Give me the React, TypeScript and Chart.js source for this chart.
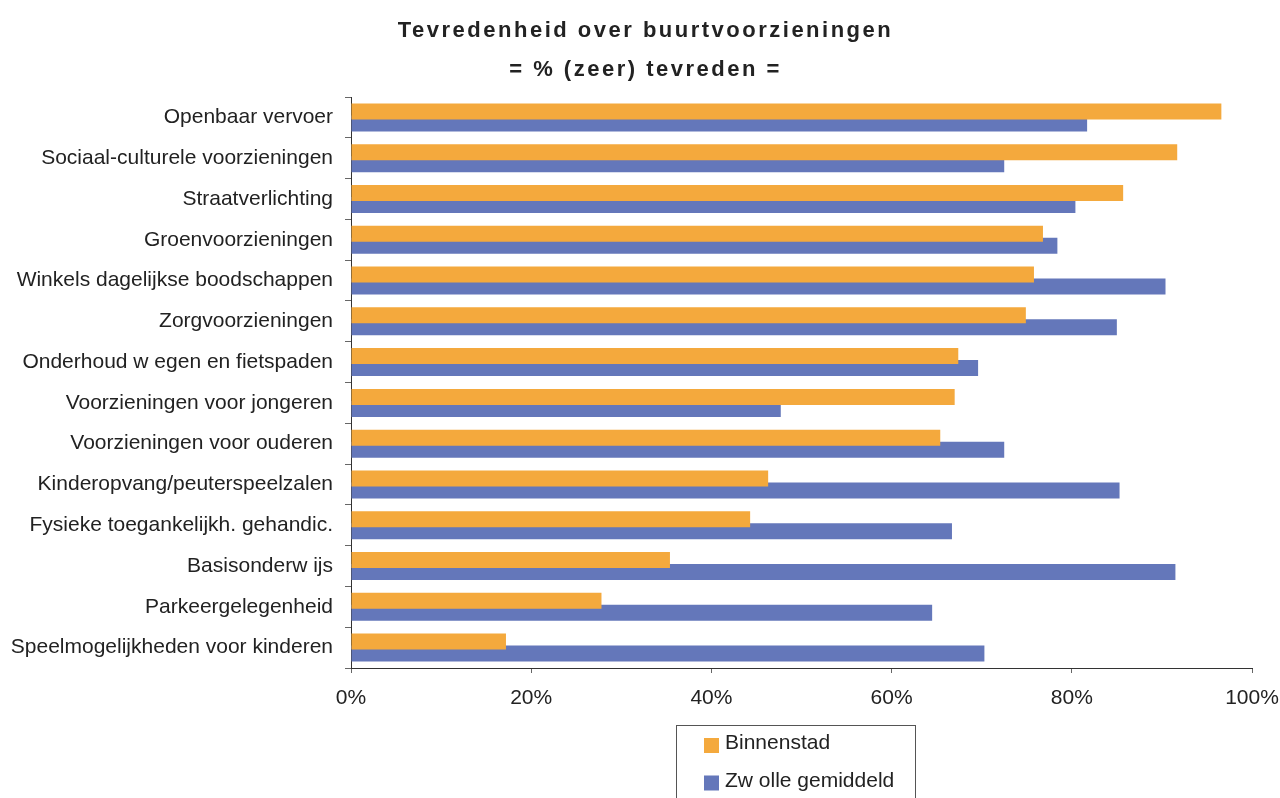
import React, { useEffect, useRef } from "react";
import { Chart, registerables } from "chart.js";

Chart.register(...registerables);

const categories = [
  "Openbaar vervoer",
  "Sociaal-culturele voorzieningen",
  "Straatverlichting",
  "Groenvoorzieningen",
  "Winkels dagelijkse boodschappen",
  "Zorgvoorzieningen",
  "Onderhoud w egen en fietspaden",
  "Voorzieningen voor jongeren",
  "Voorzieningen voor ouderen",
  "Kinderopvang/peuterspeelzalen",
  "Fysieke toegankelijkh. gehandic.",
  "Basisonderw ijs",
  "Parkeergelegenheid",
  "Speelmogelijkheden voor kinderen",
];

const binnenstad = [96.6, 91.7, 85.7, 76.8, 75.8, 74.9, 67.4, 67.0, 65.4, 46.3, 44.3, 35.4, 27.8, 17.2];
const zwolleGemiddeld = [81.7, 72.5, 80.4, 78.4, 90.4, 85.0, 69.6, 47.7, 72.5, 85.3, 66.7, 91.5, 64.5, 70.3];

const seriesNames = ["Binnenstad", "Zw olle gemiddeld"];
const seriesColors = ["#F4A93D", "#6477BA"];
const titleLines = ["Tevredenheid over buurtvoorzieningen", "= % (zeer) tevreden ="];
const xTicks = [0, 20, 40, 60, 80, 100];

const FONT = "'Liberation Sans', Arial, sans-serif";

const titlePlugin = {
  id: "spacedTitle",
  afterDraw(chart: any) {
    const ctx = chart.ctx;
    ctx.save();
    ctx.font = `bold 22px ${FONT}`;
    (ctx as any).letterSpacing = "2.5px";
    ctx.fillStyle = "#222";
    ctx.textAlign = "center";
    ctx.textBaseline = "alphabetic";
    const ys = [37, 75.5];
    titleLines.forEach((t, i) => ctx.fillText(t, 645.5, ys[i]));
    ctx.restore();
  },
};

const boxLegendPlugin = {
  id: "boxLegend",
  afterDraw(chart: any) {
    const ctx = chart.ctx;
    ctx.save();
    ctx.strokeStyle = "#555";
    ctx.lineWidth = 1;
    ctx.strokeRect(676.5, 725.5, 239, 90);
    ctx.font = `21px ${FONT}`;
    ctx.textBaseline = "middle";
    ctx.textAlign = "left";
    const ys = [742.5, 780];
    chart.data.datasets.forEach((ds: any, i: number) => {
      ctx.fillStyle = ds.backgroundColor;
      ctx.fillRect(704, ys[i] - 4.5, 15, 15);
      ctx.fillStyle = "#222";
      ctx.fillText(ds.label, 725, ys[i] + 1);
    });
    ctx.restore();
  },
};

export default function App() {
  const ref = useRef<HTMLCanvasElement>(null);
  useEffect(() => {
    document.body.style.margin = "0";
    const chart = new Chart(ref.current!, {
      type: "bar",
      data: {
        labels: categories,
        datasets: [
          {
            label: seriesNames[0],
            data: binnenstad,
            backgroundColor: seriesColors[0],
            categoryPercentage: 0.588,
            barPercentage: 1.333,
          },
          {
            label: seriesNames[1],
            data: zwolleGemiddeld,
            backgroundColor: seriesColors[1],
            categoryPercentage: 0.588,
            barPercentage: 1.333,
          },
        ],
      },
      options: {
        indexAxis: "y",
        animation: false,
        responsive: false,
        layout: { padding: { left: 0, right: 28, top: 97, bottom: 90 } },
        plugins: {
          legend: { display: false },
          tooltip: { enabled: false },
          title: { display: false },
        },
        scales: {
          x: {
            min: 0,
            max: 100,
            afterFit(scale: any) {
              scale.height = 40;
              scale.paddingLeft = 0;
              scale.paddingRight = 0;
            },
            afterBuildTicks(scale: any) {
              scale.ticks = xTicks.map((v) => ({ value: v }));
            },
            ticks: {
              callback: (v: any) => v + "%",
              color: "#222",
              font: { family: FONT, size: 21 },
              padding: 13,
              maxRotation: 0,
            },
            grid: { drawOnChartArea: false, drawTicks: true, tickLength: 5, color: "#666" },
            border: { display: true, color: "#333", width: 1 },
          },
          y: {
            afterFit(scale: any) {
              scale.width = 351;
              scale.paddingTop = 0;
              scale.paddingBottom = 0;
            },
            ticks: {
              color: "#222",
              font: { family: FONT, size: 21 },
              padding: 12,
              autoSkip: false,
            },
            grid: { drawOnChartArea: false, drawTicks: true, tickLength: 6, color: "#666", offset: true },
            border: { display: true, color: "#333", width: 1 },
          },
        },
      },
      plugins: [titlePlugin, boxLegendPlugin],
    });
    return () => chart.destroy();
  }, []);
  return <canvas ref={ref} width={1280} height={798} style={{ display: "block" }} />;
}
